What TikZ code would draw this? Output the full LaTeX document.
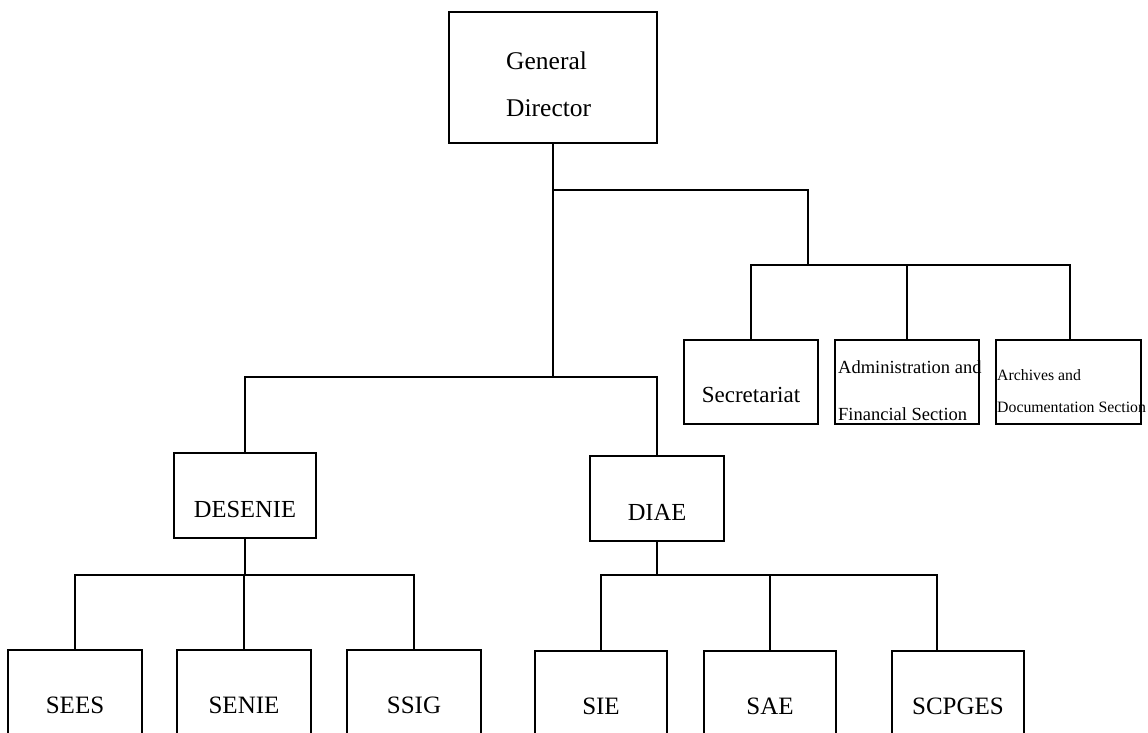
\documentclass[tikz,border=0pt]{standalone}
\usepackage{fontspec}
\setmainfont{Liberation Serif}
\usetikzlibrary{positioning}

\tikzset{
  unit/.style={draw,line width=2pt,inner sep=0pt},
  link/.style={line width=2pt},
  lbl/.style={inner sep=0pt},
}

\begin{document}
\begin{tikzpicture}[x=1pt,y=-1pt]
  \useasboundingbox (0,0) rectangle (1148,733);
  \clip (0,0) rectangle (1148,733);
  % head
  \node[unit,minimum width=208,minimum height=131] (gd) at (553,77.5) {};
  \node[lbl,anchor=base west,font=\fontsize{25.5}{30}\selectfont] (gdA) at (506,70) {General};
  \node[lbl,anchor=base west,font=\fontsize{25.5}{30}\selectfont] (gdB) at (506,117) {Director};
  % staff units
  \node[unit,minimum width=134,minimum height=84] (secr) at (751,382) {};
  \node[unit,minimum width=144,minimum height=84] (admin) at (907,382) {};
  \node[unit,minimum width=145,minimum height=84] (arch) at (1068.5,382) {};
  \node[lbl,font=\fontsize{23}{27}\selectfont] (secrT) at ([yshift=-12.5pt]secr.center) {Secretariat};
  \node[lbl,anchor=base west,font=\fontsize{18.5}{22}\selectfont] (adminA) at (838,373) {Administration and};
  \node[lbl,anchor=base west,font=\fontsize{18.5}{22}\selectfont] (adminB) at (838,420) {Financial Section};
  \node[lbl,anchor=base west,font=\fontsize{15.8}{19}\selectfont] (archA) at (997,380) {Archives and};
  \node[lbl,anchor=base west,font=\fontsize{15.8}{19}\selectfont] (archB) at (997,412) {Documentation Section};
  % departments
  \node[unit,minimum width=142,minimum height=85] (desenie) at (245,495.5) {};
  \node[unit,minimum width=134,minimum height=85] (diae) at (657,498.5) {};
  \node[lbl,font=\fontsize{24.5}{29}\selectfont] (desenieT) at ([yshift=-14pt]desenie.center) {DESENIE};
  \node[lbl,font=\fontsize{24.5}{29}\selectfont] (diaeT) at ([yshift=-14pt]diae.center) {DIAE};
  % services
  \foreach \x/\name/\lab in {75/sees/SEES, 244/senie/SENIE, 414/ssig/SSIG} {
    \node[unit,minimum width=134,minimum height=110,font=\fontsize{25}{30}\selectfont]
      (\name) at (\x,705) {\lab};
  }
  \foreach \x/\name/\lab in {601/sie/SIE, 770/sae/SAE, 958/scpges/SCPGES} {
    \node[unit,minimum width=132,minimum height=110,font=\fontsize{25}{30}\selectfont]
      (\name) at (\x,706) {\lab};
  }
  % junctions
  \coordinate (split) at (553,190);
  \coordinate (staffbar) at (808,265);
  \coordinate (deptbar) at (553,377);
  \coordinate (lbar) at (245,575);
  \coordinate (rbar) at (657,575);
  % trunk and staff branch
  \draw[link] (gd.south) -- (deptbar);
  \draw[link] (split) -| (staffbar);
  \draw[link] (secr.north) |- (staffbar);
  \draw[link] ([xshift=1.5pt]arch.north) |- (staffbar);
  \draw[link] (admin.north) -- (admin.north |- staffbar);
  % departments
  \draw[link] (desenie.north) |- (deptbar) -| (diae.north);
  \draw[link] (desenie.south) -- (lbar);
  \draw[link] (sees.north) |- (lbar) -| (ssig.north);
  \draw[link] (senie.north) -- (senie.north |- lbar);
  \draw[link] (diae.south) -- (rbar);
  \draw[link] (sie.north) |- (rbar);
  \draw[link] (sae.north) -- (sae.north |- rbar);
  \draw[link] ([xshift=-21pt]scpges.north) |- (rbar);
\end{tikzpicture}
\end{document}
